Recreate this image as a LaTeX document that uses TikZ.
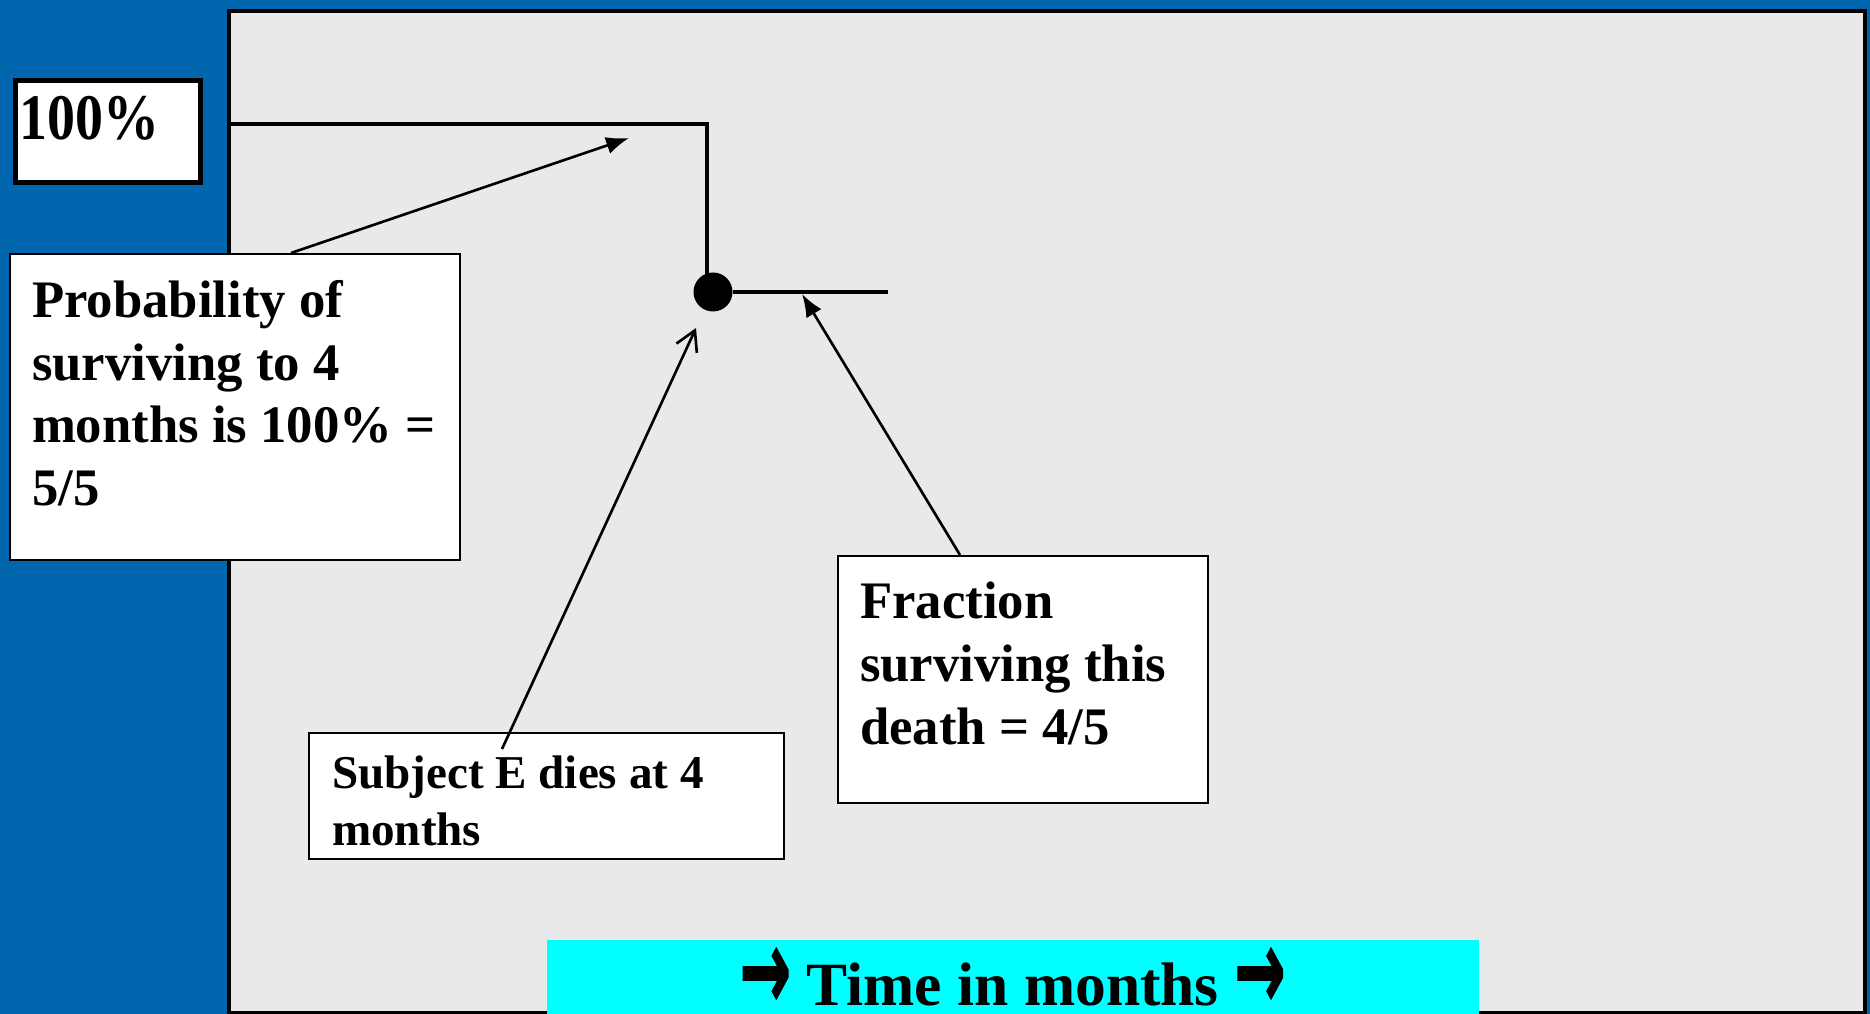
\documentclass[tikz,border=0pt]{standalone}
\usepackage{fontspec}
\setmainfont{Liberation Serif}
\newfontfamily\arrowfont{DejaVu Sans}[FakeBold=1.2]
\usepackage[HTML]{xcolor}
\usetikzlibrary{positioning, arrows.meta}

\definecolor{slideblue}{HTML}{0066AE}
\definecolor{plotgray}{HTML}{E9E9E9}
\definecolor{axiscyan}{HTML}{00FFFF}

\tikzset{
  notebox/.style={draw=black, line width=0.6pt, fill=white, anchor=north west,
    inner xsep=0.22cm, inner ysep=0.26cm, font=\bfseries},
  pointer/.style={line width=0.75pt, -{Latex[length=6.5pt,width=5pt]}},
  curve/.style={line width=1.1pt},
}
\newcommand{\boxtext}[3]{\parbox[t][#2][t]{#1}{#3}}
\newcommand{\timearrow}{{\arrowfont\bfseries\raisebox{-1pt}{\scalebox{1.0}[1.85]{\char"2192}}}}

\begin{document}
\begin{tikzpicture}[x=1cm, y=-1cm]
% slide background and plot area
\fill[slideblue] (0,0) rectangle (18.70,10.14);
\useasboundingbox (0,0) rectangle (18.70,10.14);
\draw[line width=1.4pt, fill=plotgray] (2.29,0.11) rectangle (18.65,10.13);

% y-axis label
\node[draw, line width=1.5pt, fill=white, anchor=north west, inner xsep=0.04cm,
  inner ysep=0.16cm, font=\bfseries] (full) at (0.13,0.78)
  {\boxtext{1.77cm}{0.70cm}{\fontsize{18.5}{20}\selectfont\addfontfeature{FakeStretch=0.86}100\%}};

% survival curve up to the death at 4 months
\coordinate (start) at (2.29,1.24);
\coordinate (drop) at (7.07,1.24);
\coordinate (d) at (7.13,2.92);
\coordinate (tail) at (8.88,2.92);
\draw[curve] (start) -- (drop) -- (drop |- d);
\node[circle, fill=black, inner sep=0pt, minimum size=0.39cm] (death) at (d) {};
\draw[curve] (death) -- (tail);

% note boxes
\node[notebox] (prob) at (0.09,2.53)
  {\boxtext{4.06cm}{2.54cm}{\fontsize{15}{17.9}\selectfont Probability of\\ surviving to 4\\ months is 100\% =\\ 5/5}};
\node[notebox, inner xsep=0.23cm, inner ysep=0.23cm] (subj) at (3.08,7.32)
  {\boxtext{4.29cm}{0.80cm}{\fontsize{13.4}{16.2}\selectfont Subject E dies at 4\\ months}};
\node[notebox] (frac) at (8.37,5.55)
  {\boxtext{3.26cm}{1.95cm}{\fontsize{15}{17.9}\selectfont Fraction\\ surviving this\\ death = 4/5}};

% pointers
\coordinate (tipA) at (6.29,1.38);
\coordinate (tipB) at (6.96,3.28);
\coordinate (tipC) at (8.02,2.94);
\draw[pointer] ([xshift=2.82cm]prob.north west) -- (tipA);
\draw[line width=0.75pt, -{Straight Barb[length=5.6pt,width=6.4pt]}]
  ([xshift=1.94cm, yshift=-0.17cm]subj.north west) -- (tipB);
\draw[pointer] ([xshift=1.23cm]frac.north west) -- (tipC);

% time axis label
\node[fill=axiscyan, anchor=north west, minimum width=9.32cm, minimum height=0.80cm,
  text height=0.52cm, text depth=0pt, font=\bfseries\fontsize{17.5}{20}\selectfont]
  (axis) at (5.46,9.39) {\timearrow{} Time in months \timearrow};
\end{tikzpicture}
\end{document}
